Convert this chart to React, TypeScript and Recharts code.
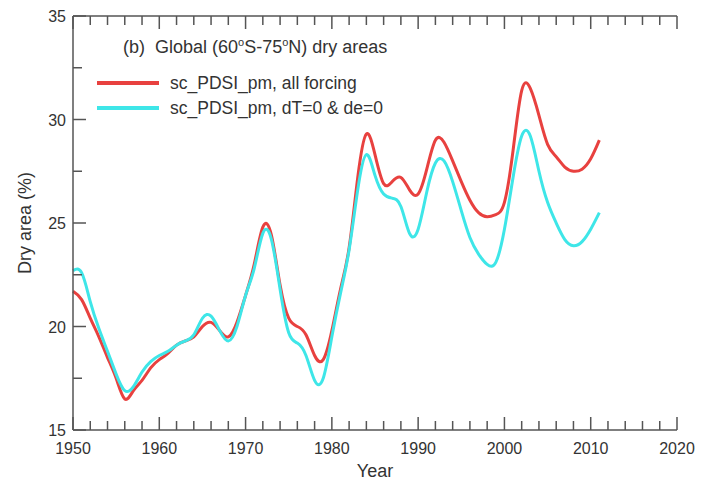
import React from 'react';
import { LineChart, Line, XAxis, YAxis, Legend } from 'recharts';

const years = [
  1950, 1951, 1952, 1953, 1954, 1955, 1956, 1957, 1958, 1959,
  1960, 1961, 1962, 1963, 1964, 1965, 1966, 1967, 1968, 1969,
  1970, 1971, 1972, 1973, 1974, 1975, 1976, 1977, 1978, 1979,
  1980, 1981, 1982, 1983, 1984, 1985, 1986, 1987, 1988, 1989,
  1990, 1991, 1992, 1993, 1994, 1995, 1996, 1997, 1998, 1999,
  2000, 2001, 2002, 2003, 2004, 2005, 2006, 2007, 2008, 2009,
  2010, 2011,
];

const allForcing = [
  21.7, 21.3, 20.4, 19.5, 18.5, 17.5, 16.5, 16.9, 17.4, 18.0,
  18.4, 18.7, 19.1, 19.3, 19.5, 20.0, 20.2, 19.8, 19.5, 20.2,
  21.5, 23.0, 24.8, 24.4, 22.0, 20.4, 20.0, 19.6, 18.6, 18.4,
  19.8, 21.8, 23.8, 27.2, 29.3, 28.3, 26.9, 27.0, 27.2, 26.6,
  26.4, 27.6, 29.0, 28.9, 28.0, 27.0, 26.1, 25.5, 25.3, 25.4,
  26.0, 28.5, 31.4, 31.5, 30.2, 28.8, 28.2, 27.7, 27.5, 27.6,
  28.1, 29.0,
];

const noWarming = [
  22.7, 22.6, 21.2, 19.9, 18.8, 17.7, 16.9, 17.1, 17.8, 18.3,
  18.6, 18.8, 19.1, 19.3, 19.6, 20.4, 20.5, 19.8, 19.3, 20.0,
  21.5, 22.8, 24.5, 24.2, 21.8, 19.7, 19.2, 18.6, 17.4, 17.5,
  19.5, 21.6, 23.7, 26.6, 28.3, 27.3, 26.4, 26.2, 25.8, 24.5,
  24.7, 26.5, 27.9, 28.0, 27.0, 25.6, 24.3, 23.5, 23.0, 23.1,
  24.7, 27.2, 29.2, 29.2, 27.5, 26.0, 25.0, 24.2, 23.9, 24.1,
  24.7, 25.5,
];

const xTicks = [
  1950, 1952, 1954, 1956, 1958, 1960, 1962, 1964, 1966, 1968,
  1970, 1972, 1974, 1976, 1978, 1980, 1982, 1984, 1986, 1988,
  1990, 1992, 1994, 1996, 1998, 2000, 2002, 2004, 2006, 2008,
  2010, 2012, 2014, 2016, 2018, 2020,
];
const yTicks = [15, 17.5, 20, 22.5, 25, 27.5, 30, 32.5, 35];

const data = years.map((year, i) => ({
  year,
  all: allForcing[i],
  fixed: noWarming[i],
}));

const FONT = '"Liberation Sans", Arial, Helvetica, sans-serif';
const AXIS = '#555';
const TEXT = '#333';
const RED = '#e8413f';
const CYAN = '#3ee6e8';

const tickLen = (major: boolean) => (major ? 13 : 9);

const BottomTick = ({ x, y, payload }: any) => {
  const major = payload.value % 10 === 0;
  return (
    <g>
      <line x1={x} x2={x} y1={y} y2={y - tickLen(major)} stroke={AXIS} strokeWidth={1.5} />
      {major && (
        <text x={x} y={y + 24} textAnchor="middle" fontSize={16} fill={TEXT} fontFamily={FONT}>
          {payload.value}
        </text>
      )}
    </g>
  );
};

const TopTick = ({ x, y, payload }: any) => {
  const major = payload.value % 10 === 0;
  return <line x1={x} x2={x} y1={y} y2={y + tickLen(major)} stroke={AXIS} strokeWidth={1.5} />;
};

const LeftTick = ({ x, y, payload }: any) => {
  const major = payload.value % 5 === 0;
  return (
    <g>
      <line x1={x} x2={x + tickLen(major)} y1={y} y2={y} stroke={AXIS} strokeWidth={1.5} />
      {major && (
        <text x={x - 7} y={y + 6} textAnchor="end" fontSize={16} fill={TEXT} fontFamily={FONT}>
          {payload.value}
        </text>
      )}
    </g>
  );
};

const RightTick = ({ x, y, payload }: any) => {
  const major = payload.value % 5 === 0;
  return <line x1={x} x2={x - tickLen(major)} y1={y} y2={y} stroke={AXIS} strokeWidth={1.5} />;
};

const YTitle = ({ viewBox }: any) => {
  const cx = viewBox.x + 15;
  const cy = viewBox.y + viewBox.height / 2;
  return (
    <text
      x={cx}
      y={cy}
      transform={`rotate(-90 ${cx} ${cy})`}
      textAnchor="middle"
      dominantBaseline="central"
      fontSize={18}
      fill={TEXT}
      fontFamily={FONT}
    >
      Dry area (%)
    </text>
  );
};

const XTitle = ({ viewBox }: any) => (
  <text
    x={viewBox.x + viewBox.width / 2}
    y={viewBox.y + 47}
    textAnchor="middle"
    fontSize={18}
    fill={TEXT}
    fontFamily={FONT}
  >
    Year
  </text>
);

const LegendBox = ({ payload }: any) => (
  <svg width={290} height={40} style={{ display: 'block', overflow: 'visible' }}>
    {(payload || []).map((p: any, i: number) => (
      <g key={p.value} transform={`translate(0, ${i * 25})`}>
        <line x1={0} x2={62} y1={8} y2={8} stroke={p.color} strokeWidth={4} />
        <text x={73} y={14} fontSize={17.5} fill={TEXT} fontFamily={FONT}>
          {p.value}
        </text>
      </g>
    ))}
  </svg>
);

export default function App() {
  return (
    <div style={{ position: 'absolute', left: 0, top: 0, width: 706, height: 481, background: '#fff' }}>
      <LineChart width={706} height={481} data={data} margin={{ top: 15, right: 29, bottom: 21, left: 10 }}>
        <XAxis
          dataKey="year"
          type="number"
          domain={[1950, 2020]}
          ticks={xTicks}
          interval={0}
          tickSize={0}
          tickMargin={0}
          tickLine={false}
          tick={<BottomTick />}
          axisLine={{ stroke: AXIS, strokeWidth: 1.5 }}
          height={30}
          label={XTitle}
        />
        <XAxis
          xAxisId="top"
          orientation="top"
          dataKey="year"
          type="number"
          domain={[1950, 2020]}
          ticks={xTicks}
          interval={0}
          tickSize={0}
          tickMargin={0}
          tickLine={false}
          tick={<TopTick />}
          axisLine={{ stroke: AXIS, strokeWidth: 1.5 }}
          height={1}
        />
        <YAxis
          type="number"
          domain={[15, 35]}
          ticks={yTicks}
          interval={0}
          tickSize={0}
          tickMargin={0}
          tickLine={false}
          tick={<LeftTick />}
          axisLine={{ stroke: AXIS, strokeWidth: 1.5 }}
          width={63}
          label={YTitle}
        />
        <YAxis
          yAxisId="right"
          orientation="right"
          type="number"
          domain={[15, 35]}
          ticks={yTicks}
          interval={0}
          tickSize={0}
          tickMargin={0}
          tickLine={false}
          tick={<RightTick />}
          axisLine={{ stroke: AXIS, strokeWidth: 1.5 }}
          width={0}
        />
        <Legend
          layout="vertical"
          align="center"
          verticalAlign="middle"
          wrapperStyle={{ left: 97, top: 75, width: 290 }}
          content={LegendBox}
        />
        <Line
          type="natural"
          dataKey="all"
          name="sc_PDSI_pm, all forcing"
          stroke={RED}
          strokeWidth={3}
          dot={false}
          isAnimationActive={false}
        />
        <Line
          type="natural"
          dataKey="fixed"
          name="sc_PDSI_pm, dT=0 & de=0"
          stroke={CYAN}
          strokeWidth={3}
          dot={false}
          isAnimationActive={false}
        />
      </LineChart>
      <svg
        width={706}
        height={481}
        style={{ position: 'absolute', left: 0, top: 0, pointerEvents: 'none' }}
      >
        <text x={123} y={53} fontSize={18} fill={TEXT} fontFamily={FONT} xmlSpace="preserve">
          (b)  Global (60<tspan fontSize={11} dy={-7}>o</tspan>
          <tspan dy={7}>S-75</tspan>
          <tspan fontSize={11} dy={-7}>o</tspan>
          <tspan dy={7}>N) dry areas</tspan>
        </text>
      </svg>
    </div>
  );
}
